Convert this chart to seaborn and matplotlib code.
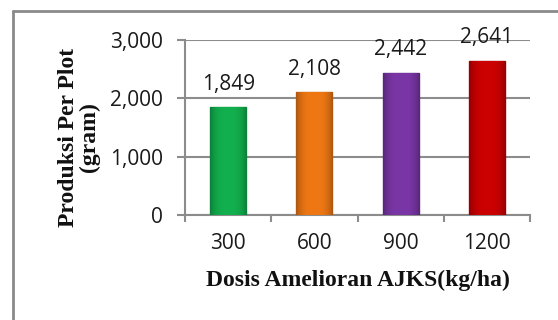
import matplotlib
matplotlib.use("Agg")
import matplotlib.pyplot as plt
import seaborn as sns
import pandas as pd
import numpy as np
from matplotlib.lines import Line2D
from matplotlib.colors import to_rgb

# Data
dosis = ["300", "600", "900", "1200"]
produksi = [1849, 2108, 2442, 2641]
warna = ["#12B04E", "#F07814", "#7A36A6", "#CC0000"]
yticks = [0, 1000, 2000, 3000]

df = pd.DataFrame({"dosis": dosis, "produksi": produksi})

sns.set_theme(style="white")
plt.rcParams["font.family"] = ["Open Sans", "DejaVu Sans"]

fig = plt.figure(figsize=(5.58, 3.2), dpi=100)
ax = fig.add_axes([185 / 558, 1 - 215 / 320, 345 / 558, 175 / 320])

grid_c = "#8C8C8C"
text_c = "#1a1a1a"
sns.barplot(data=df, x="dosis", y="produksi", hue="dosis", palette=warna,
            width=0.42, legend=False, ax=ax, saturation=1,
            edgecolor="none", zorder=3)

ax.set_ylim(0, 3000)
ax.set_xlim(-0.5, len(dosis) - 0.5)

# bevelled shading: darker toward the left/right edges of each bar
prof = np.linspace(-1, 1, 64)
shade = 1 - 0.28 * np.abs(prof) ** 3
for patch, c in zip(ax.patches, warna):
    rgb = np.array(to_rgb(c))
    img = (shade[None, :, None] * rgb[None, None, :]).clip(0, 1)
    x0, y0 = patch.get_x(), patch.get_y()
    w, h = patch.get_width(), patch.get_height()
    im = ax.imshow(img, extent=(x0, x0 + w, y0, y0 + h), aspect="auto",
                   zorder=3.5, interpolation="bilinear")
    im.set_clip_path(patch)
    patch.set_edgecolor(sns.dark_palette(c, n_colors=6)[4])
    patch.set_linewidth(1.0)
ax.set_xlim(-0.5, len(dosis) - 0.5)
ax.set_ylim(0, 3000)
ax.set_aspect("auto")

ax.set_yticks(yticks)
ax.set_yticklabels([f"{v:,}" for v in yticks])

ax.yaxis.grid(True, color=grid_c, linewidth=1.5, zorder=0)
ax.set_axisbelow(True)
for s in ["top", "right"]:
    ax.spines[s].set_visible(False)
for s in ["left", "bottom"]:
    ax.spines[s].set_color(grid_c)
    ax.spines[s].set_linewidth(1.5)

# x ticks sit between the categories
ax.set_xticks(range(len(dosis)))
ax.set_xticklabels(dosis)
ax.set_xticks([i - 0.5 for i in range(len(dosis) + 1)], minor=True)
ax.tick_params(axis="x", which="minor", direction="out", length=5,
               width=1.5, color=grid_c, bottom=True)
ax.tick_params(axis="x", which="major", length=0, pad=13, labelsize=15,
               labelcolor=text_c)
ax.tick_params(axis="y", direction="out", length=6, width=1.5,
               color=grid_c, pad=10, labelsize=15, labelcolor=text_c, left=True)

# value labels
for i, v in enumerate(produksi):
    ax.annotate(f"{v:,}", (i, v), xytext=(0, 9), textcoords="offset points",
                ha="center", va="bottom", fontsize=15, color=text_c,
                zorder=5, annotation_clip=False)

serif_bold = dict(family=["Liberation Serif", "DejaVu Serif"], weight="bold",
                  fontsize=17, color="#111111")
ax.set_xlabel("Dosis Amelioran AJKS(kg/ha)", labelpad=11, **serif_bold)
ax.set_ylabel("Produksi Per Plot\n(gram)", multialignment="center",
              linespacing=1.0, **serif_bold)
ax.yaxis.set_label_coords(-0.245, 0.446)

# outer chart frame (left and top edges)
fx = 12.5 / 558
fy = 1 - 11 / 320
fig.add_artist(Line2D([fx, fx], [0, fy], transform=fig.transFigure,
                      color="#8A8A8A", linewidth=2))
fig.add_artist(Line2D([fx, 1], [fy, fy], transform=fig.transFigure,
                      color="#8A8A8A", linewidth=2))

fig.savefig("out.png", dpi=100)
